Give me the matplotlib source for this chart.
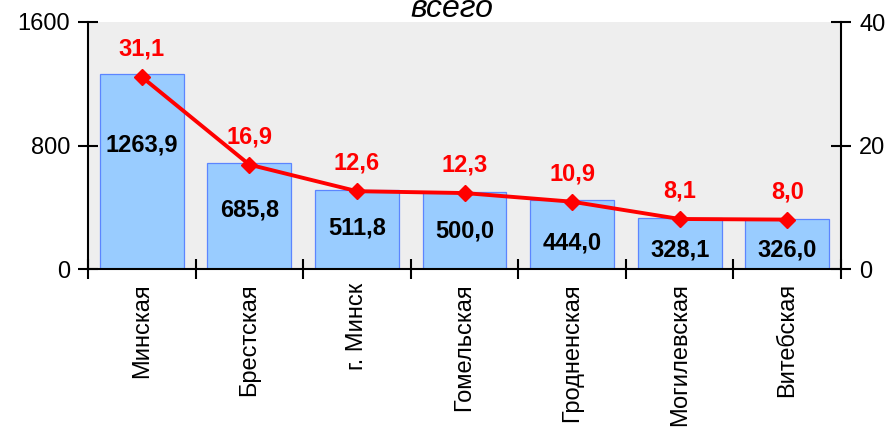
import matplotlib
matplotlib.use("Agg")
import matplotlib.pyplot as plt
import numpy as np

categories = ["Минская", "Брестская", "г. Минск", "Гомельская", "Гродненская", "Могилевская", "Витебская"]
bar_values = [1263.9, 685.8, 511.8, 500.0, 444.0, 328.1, 326.0]
line_values = [31.1, 16.9, 12.6, 12.3, 10.9, 8.1, 8.0]
left_ticks = [0, 800, 1600]
right_ticks = [0, 20, 40]

# layout: vertical placement of the bar value labels (left-axis units)
bar_label_y = [803, 382, 266, 246, 168, 123, 123]

plt.rcParams['font.family'] = ['Liberation Sans', 'DejaVu Sans']

fig = plt.figure(figsize=(8.9, 4.32), dpi=100)
ax = fig.add_axes([88/890, 1-269/432, (841-88)/890, (269-22)/432])
ax.set_facecolor('#EEEEEE')
x = np.arange(len(categories))
ax.bar(x, bar_values, width=0.78, color='#99CCFF', edgecolor='#5C85FF', linewidth=0.9, zorder=2)
ax.set_xlim(-0.5, len(categories)-0.5)
ax.set_ylim(0, 1600)
ax.set_yticks(left_ticks)
ax.set_yticklabels([str(t) for t in left_ticks], fontsize=17)
ax.tick_params(axis='y', direction='inout', length=14, width=1.5, pad=6)
ax.set_xticks(x)
ax.set_xticklabels(categories, rotation=90, fontsize=17, va='top', ha='center')
ax.tick_params(axis='x', length=0, pad=10)
ax.set_xticks(np.arange(-0.5, len(categories)), minor=True)
ax.tick_params(axis='x', which='minor', direction='inout', length=14, width=1.5)
for s in ['left', 'bottom']:
    ax.spines[s].set_linewidth(1.5)
ax.spines['top'].set_visible(False)
ax.spines['right'].set_visible(False)

for xi, v, ly in zip(x, bar_values, bar_label_y):
    ax.text(xi, ly, f"{v:.1f}".replace('.', ','), ha='center', va='center',
            fontsize=17, fontweight='bold', color='black', zorder=5)

ax2 = ax.twinx()
ax2.set_ylim(0, 40)
ax2.set_yticks(right_ticks)
ax2.set_yticklabels([str(t) for t in right_ticks], fontsize=17)
ax2.tick_params(axis='y', direction='inout', length=14, width=1.5, pad=6)
ax2.spines['right'].set_linewidth(1.5)
for s in ['top', 'left', 'bottom']:
    ax2.spines[s].set_visible(False)
ax2.plot(x, line_values, color='red', linewidth=2.8, marker='D', markersize=8, zorder=4)
for xi, v in zip(x, line_values):
    ax2.annotate(f"{v:.1f}".replace('.', ','), (xi, v), xytext=(0, 20), textcoords='offset points',
                 ha='center', va='center', fontsize=17, fontweight='bold', color='red')

fig.text(452/890, 1-17/432, "всего", ha='center', va='baseline', fontsize=23, style='italic')

fig.savefig("out.png", dpi=100)
